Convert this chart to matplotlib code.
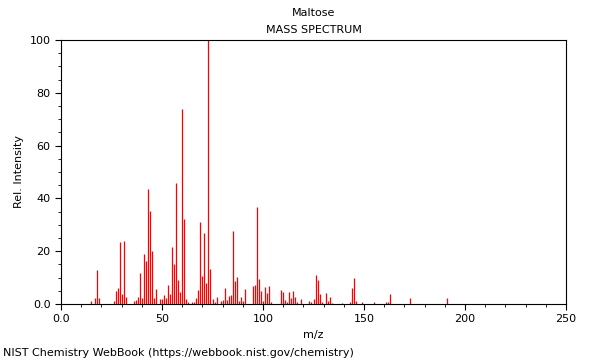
import matplotlib.pyplot as plt
from matplotlib.ticker import MultipleLocator, FuncFormatter

# Maltose EI mass spectrum
mz = [15, 17, 18, 19, 26, 27, 28, 29, 30, 31, 32, 36, 37, 38, 39, 40,
      41, 42, 43, 44, 45, 46, 47, 49, 50, 51, 52, 53, 54, 55, 56, 57,
      58, 59, 60, 61, 62, 63, 65, 66, 67, 68, 69, 70, 71, 72, 73, 74,
      75, 76, 77, 79, 80, 81, 82, 83, 84, 85, 86, 87, 88, 89, 90, 91,
      95, 96, 97, 98, 99, 100, 101, 102, 103, 104, 109, 110, 111, 112,
      113, 114, 115, 116, 117, 119, 123, 124, 125, 126, 127, 128, 129,
      131, 132, 133, 134, 139, 143, 144, 145, 146, 149, 155, 161, 162,
      163, 173, 191]
intensity = [1.1, 2.4, 12.9, 2.1, 1.2, 5.0, 6.0, 23.4, 3.7, 23.7, 2.8, 1.1, 1.6, 2.6, 11.9, 2.4,
             18.8, 16.3, 43.6, 35.2, 20.1, 2.4, 5.7, 2.0, 1.8, 3.3, 2.4, 7.2, 3.9, 21.6, 15.0, 46.0,
             9.0, 4.7, 74.0, 32.1, 2.0, 0.9, 0.8, 0.8, 2.3, 5.2, 30.9, 10.6, 26.9, 7.8, 100.0, 13.1,
             1.9, 0.9, 2.8, 1.1, 1.6, 5.9, 1.6, 3.0, 3.4, 27.7, 8.7, 10.4, 1.3, 2.8, 1.1, 5.8,
             6.8, 7.2, 36.6, 9.5, 4.9, 1.3, 6.3, 4.3, 6.9, 0.9, 5.3, 4.4, 1.5, 0.8,
             4.4, 2.4, 4.9, 2.5, 0.8, 1.8, 1.0, 0.8, 1.8, 10.9, 9.0, 3.8, 0.8,
             4.3, 1.0, 2.7, 0.5, 0.5, 0.8, 6.1, 9.8, 1.1, 0.8, 0.8, 0.8, 0.9,
             3.8, 2.3, 2.3]

fig = plt.figure(figsize=(6, 3.6), dpi=100)
ax = fig.add_axes([0.1017, 0.1556, 0.8416, 0.7333])

ax.vlines(mz, 0, intensity, color='red', linewidth=0.9)

ax.set_xlim(0, 250)
ax.set_ylim(0, 100)

ax.xaxis.set_major_locator(MultipleLocator(50))
ax.xaxis.set_minor_locator(MultipleLocator(10))
ax.yaxis.set_major_locator(MultipleLocator(20))
ax.yaxis.set_minor_locator(MultipleLocator(5))

zero_fmt = FuncFormatter(lambda v, p: '0.0' if v == 0 else '%d' % v)
ax.xaxis.set_major_formatter(zero_fmt)
ax.yaxis.set_major_formatter(zero_fmt)

ax.tick_params(labelsize=8, length=4, width=0.8)
ax.tick_params(which='minor', length=2, width=0.6)
for s in ax.spines.values():
    s.set_linewidth(0.8)

ax.set_xlabel('m/z', fontsize=8)
ax.set_ylabel('Rel. Intensity', fontsize=8)

fig.text(0.523, 0.963, 'Maltose', ha='center', va='center', fontsize=8)
fig.text(0.523, 0.916, 'MASS SPECTRUM', ha='center', va='center', fontsize=8)
fig.text(0.005, 0.019, 'NIST Chemistry WebBook (https://webbook.nist.gov/chemistry)',
         ha='left', va='center', fontsize=8)

plt.savefig('out.png', dpi=100)
